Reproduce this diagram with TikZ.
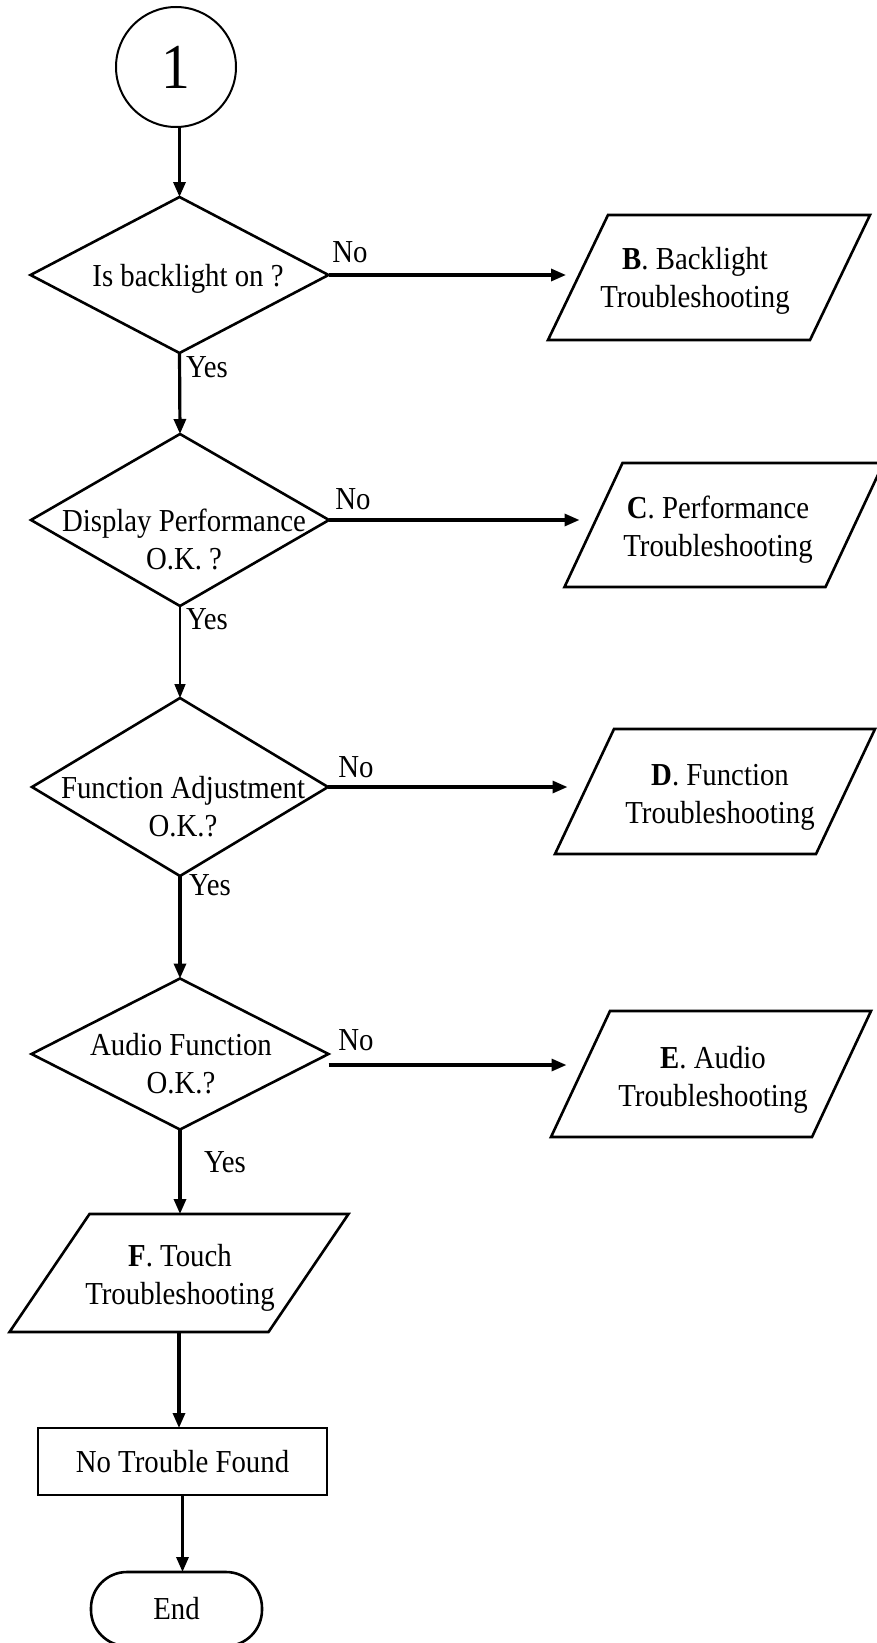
\documentclass[tikz,border=0pt]{standalone}
\usepackage{fontspec}
\setmainfont{Liberation Serif}[FakeStretch=0.9]
\usetikzlibrary{arrows.meta,shapes.geometric}

% parallelogram drawn round a rectangle node: #1 node name, #2 half of the slant
\newcommand\drawpgram[2]{%
  \draw[shapeline] ([xshift=#2]#1.north west) -- ([xshift=#2]#1.north east)
    -- ([xshift=-#2]#1.south east) -- ([xshift=-#2]#1.south west) -- cycle;}

\begin{document}
\begin{tikzpicture}[x=1pt,y=-1pt,
  every node/.style={font={\fontsize{32}{38}\selectfont}, inner sep=0pt, outer sep=0pt},
  shapeline/.style={draw, line width=2.6pt, line join=miter},
  decision/.style={shapeline, diamond, inner sep=0pt},
  pgbox/.style={rectangle, minimum width=#1},
  txt/.style={align=center},
  lbl/.style={text height=21pt, text depth=6pt},
  flow/.style={line width=3.2pt, -{Triangle[length=15pt,width=12pt]}},
  thinflow/.style={line width=1.5pt, -{Triangle[length=14pt,width=11pt]}}
]
\useasboundingbox (0,0) rectangle (877,1643);

% connector circle
\node[draw, circle, line width=2pt, minimum size=120pt,
      font={\fontsize{64}{70}\selectfont}] (start) at (176,67) {1};

% decisions
\node[decision, minimum width=298pt, minimum height=156pt] (d1) at (179.5,275) {};
\node[txt] (t1) at (188,279) {Is backlight on ?};

\node[decision, minimum width=298pt, minimum height=172pt] (d2) at (180,520) {};
\node[txt] (t2) at (184,539) {Display Performance\\O.K. ?};

\node[decision, minimum width=296pt, minimum height=178pt] (d3) at (180,787) {};
\node[txt] (t3) at (183,807) {Function Adjustment\\O.K.?};

\node[decision, minimum width=297pt, minimum height=151pt] (d4) at (180,1054) {};
\node[txt] (t4) at (181,1064) {Audio Function\\O.K.?};

% troubleshooting blocks
\node[pgbox=262pt, minimum height=125pt] (B) at (709,277.5) {};
\drawpgram{B}{30pt}
\node[txt] (tB) at (695,281) {\textbf{B}. Backlight\\Troubleshooting};

\node[pgbox=261pt, minimum height=124pt] (C) at (724,525) {};
\drawpgram{C}{29pt}
\node[txt] (tC) at (718,530) {\textbf{C}. Performance\\Troubleshooting};

\node[pgbox=261pt, minimum height=125pt] (D) at (715,791.5) {};
\drawpgram{D}{29.5pt}
\node[txt] (tD) at (720,797) {\textbf{D}. Function\\Troubleshooting};

\node[pgbox=261pt, minimum height=126pt] (E) at (711,1074) {};
\drawpgram{E}{29.5pt}
\node[txt] (tE) at (713,1080) {\textbf{E}. Audio\\Troubleshooting};

\node[pgbox=259pt, minimum height=118pt] (F) at (179,1273) {};
\drawpgram{F}{40pt}
\node[txt] (tF) at (180,1278) {\textbf{F}. Touch\\Troubleshooting};

% end of the chart
\node[shapeline, rectangle, minimum width=289pt, minimum height=67pt] (nt) at (182.5,1461.5) {No Trouble Found};
\node[shapeline, rectangle, rounded corners=36pt, minimum width=171pt, minimum height=74pt] (end) at (176.5,1609) {End};

% main line
\draw[flow] (d1.north |- start.south) -- (d1.north);
\draw[flow] (d1.south) -- (d2.north);
\draw[thinflow] (d2.south) -- (d3.north);
\draw[flow] (d3.south) -- (d4.north);
\draw[flow] (d4.south) -- (d4.south |- F.north);
\draw[flow] (F.south) -- (F.south |- nt.north);
\draw[flow] (nt.south) -- (nt.south |- end.north);

% branches
\draw[flow] (d1.east) -- ([xshift=-12pt]d1.east -| B.west);
\draw[flow] (d2.east) -- ([xshift=-14pt]d2.east -| C.west);
\draw[flow] (d3.east) -- ([xshift=-17pt]d3.east -| D.west);
\draw[flow] ([yshift=-11pt]d4.east) -- ([xshift=-14pt,yshift=-11pt]d4.east -| E.west);

% branch labels
\node[lbl] (n1) at (350,255) {No};
\node[lbl] (n2) at (353,502) {No};
\node[lbl] (n3) at (356,770) {No};
\node[lbl] (n4) at (356,1043) {No};
\node[lbl] (y1) at (207,370) {Yes};
\node[lbl] (y2) at (207,622) {Yes};
\node[lbl] (y3) at (210,888) {Yes};
\node[lbl] (y4) at (225,1165) {Yes};
\end{tikzpicture}
\end{document}
